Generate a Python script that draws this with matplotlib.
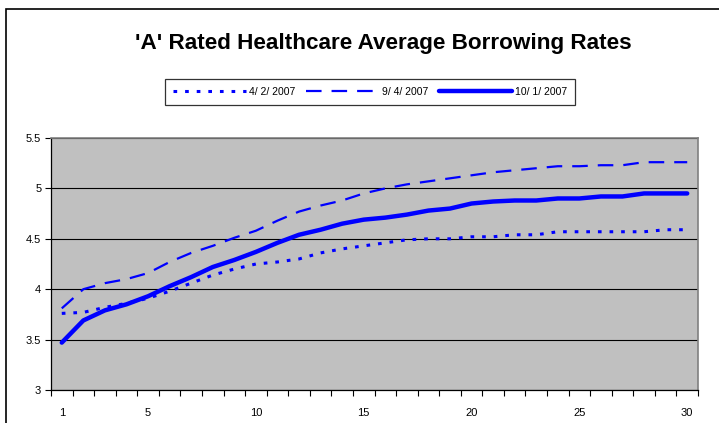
import matplotlib.pyplot as plt
from matplotlib.patches import Rectangle

plt.rcParams['font.family'] = ['Liberation Sans', 'DejaVu Sans']

years = list(range(1, 31))
labels = ['4/ 2/ 2007', '9/ 4/ 2007', '10/ 1/ 2007']

apr_2007 = [3.76, 3.77, 3.82, 3.86, 3.91, 3.98, 4.06, 4.14, 4.20, 4.25,
            4.27, 4.30, 4.36, 4.40, 4.43, 4.46, 4.49, 4.50, 4.50, 4.52,
            4.52, 4.54, 4.54, 4.57, 4.57, 4.57, 4.57, 4.57, 4.59, 4.59]
sep_2007 = [3.81, 4.00, 4.06, 4.10, 4.16, 4.27, 4.36, 4.43, 4.51, 4.58,
            4.68, 4.77, 4.83, 4.88, 4.95, 5.00, 5.04, 5.07, 5.10, 5.13,
            5.16, 5.18, 5.20, 5.22, 5.22, 5.23, 5.23, 5.26, 5.26, 5.26]
oct_2007 = [3.47, 3.69, 3.79, 3.85, 3.93, 4.03, 4.12, 4.22, 4.29, 4.37,
            4.46, 4.54, 4.59, 4.65, 4.69, 4.71, 4.74, 4.78, 4.80, 4.85,
            4.87, 4.88, 4.88, 4.90, 4.90, 4.92, 4.92, 4.95, 4.95, 4.95]

W, H = 719, 423
fig = plt.figure(figsize=(W / 100, H / 100), dpi=100)
fig.patch.set_facecolor('white')

# chart border (cut off on the right and bottom like the screenshot)
fig.patches.append(Rectangle((6 / W, -0.1), 1.0, (H - 9) / H + 0.1,
                             transform=fig.transFigure, fill=False,
                             edgecolor='black', linewidth=1.2))

ax = fig.add_axes([51 / W, (H - 390) / H, 647 / W, 252 / H])
ax.set_facecolor('#C0C0C0')

blue = '#0000FF'
ax.plot(years, apr_2007, color=blue, linewidth=2.2, linestyle=(0, (1.2, 2.6)),
        label=labels[0])
ax.plot(years, sep_2007, color=blue, linewidth=1.6, linestyle=(0, (7, 4.5)),
        label=labels[1])
ax.plot(years, oct_2007, color=blue, linewidth=3.2, solid_capstyle='round',
        label=labels[2])

ax.set_xlim(0.5, 30.5)
ax.set_ylim(3, 5.5)
ax.set_yticks([3, 3.5, 4, 4.5, 5, 5.5])
ax.set_yticklabels(['3', '3.5', '4', '4.5', '5', '5.5'])
ax.set_xticks([1, 5, 10, 15, 20, 25, 30])
ax.set_xticks([i + 0.5 for i in range(0, 31)], minor=True)
ax.tick_params(axis='x', which='major', length=0, pad=13, labelsize=8)
ax.tick_params(axis='x', which='minor', length=4, width=0.8, direction='out')
ax.tick_params(axis='y', length=4, width=0.8, direction='out', labelsize=8, pad=3)
ax.grid(axis='y', color='black', linewidth=0.8)
ax.set_axisbelow(True)

for s in ['left', 'bottom']:
    ax.spines[s].set_color('black')
    ax.spines[s].set_linewidth(0.9)
for s in ['top', 'right']:
    ax.spines[s].set_color('#808080')
    ax.spines[s].set_linewidth(1.2)

fig.text(383 / W, 1 - 48.5 / H, "'A' Rated Healthcare Average Borrowing Rates",
         ha='center', va='baseline', fontsize=16.2, fontweight='bold')

leg = fig.legend(loc='center', bbox_to_anchor=(370 / W, 1 - 92 / H), ncol=3,
                 fontsize=7.5, handlelength=7, handletextpad=0.3,
                 columnspacing=1.0, frameon=True, fancybox=False,
                 borderpad=0.8)
leg.get_frame().set_edgecolor('black')
leg.get_frame().set_linewidth(0.9)

fig.savefig('out.png', dpi=100)
